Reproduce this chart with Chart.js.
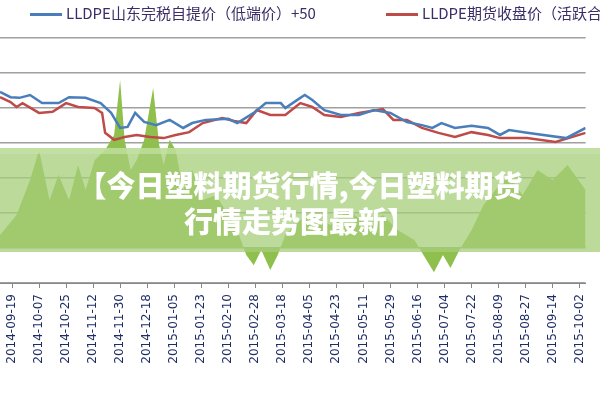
<!DOCTYPE html>
<html><head><meta charset="utf-8">
<script src="https://cdn.jsdelivr.net/npm/chart.js@4"></script>
<style>
  html, body { margin: 0; padding: 0; width: 600px; height: 400px; overflow: hidden; background: #fff; }
  #wrap { position: relative; width: 600px; height: 400px; }
  canvas { position: absolute; left: 0; top: 0; }
  .leg { position: absolute; top: 2px; font: 15px "Noto Sans CJK SC", sans-serif; color: #3b2d66; white-space: nowrap; }
  .leg i { display: inline-block; width: 32px; height: 3px; vertical-align: middle; margin-right: 4px; }
  #banner { position: absolute; left: 0; top: 148px; width: 600px; height: 104px; background: rgba(165, 205, 120, 0.75);
    border-top: 6px solid rgba(200, 228, 170, 0.6); box-sizing: border-box; color: #fff; text-align: center;
    font: 900 29px/36px "Noto Sans CJK SC", sans-serif; padding-top: 12px; }
</style></head>
<body>
<div id="wrap">
  <canvas id="c" width="600" height="400"></canvas>
  <div class="leg" style="left:30px"><i style="background:#4a7ebb"></i>LLDPE山东完税自提价（低端价）+50</div>
  <div class="leg" style="left:386px"><i style="background:#be4b48"></i>LLDPE期货收盘价（活跃合约）</div>
  <div id="banner">【今日塑料期货行情,今日塑料期货<br>行情走势图最新】</div>
</div>
<script>
// days counted from 2014-09-19
const tickDays = [0, 18, 36, 54, 72, 90, 108, 126, 144, 162, 180, 198, 216, 234, 252, 270, 288, 306, 324, 342, 360, 378];
const tickLabels = ["2014-09-19", "2014-10-07", "2014-10-25", "2014-11-12", "2014-11-30", "2014-12-18",
  "2015-01-05", "2015-01-23", "2015-02-10", "2015-02-28", "2015-03-18", "2015-04-05", "2015-04-23",
  "2015-05-11", "2015-05-29", "2015-06-16", "2015-07-04", "2015-07-22", "2015-08-09", "2015-08-27",
  "2015-09-14", "2015-10-02"];

const spotDays = [-8, -1, 5, 12, 20, 31, 38, 49, 59, 66, 72, 77, 82, 88, 96, 105, 114, 120, 129, 144, 150, 161, 169, 179, 182, 192, 195, 200, 208, 219, 231, 241, 252, 263, 273, 280, 286, 295, 306, 317, 325, 331, 343, 369, 382];
const spotPrice = [11460, 11310, 11290, 11370, 11140, 11140, 11310, 11290, 11140, 10860, 10430, 10460, 10860, 10600, 10510, 10660, 10430, 10570, 10660, 10690, 10570, 10860, 11140, 11140, 11000, 11290, 11370, 11230, 10940, 10800, 10800, 10940, 10860, 10600, 10510, 10430, 10570, 10430, 10490, 10430, 10230, 10370, 10290, 10140, 10430];

const futDays = [-8, -1, 3, 7, 18, 27, 36, 44, 55, 60, 62, 68, 75, 83, 92, 101, 109, 118, 127, 140, 148, 156, 163, 172, 182, 192, 200, 208, 219, 231, 247, 254, 263, 273, 284, 295, 306, 317, 325, 343, 362, 382];
const futPrice = [11310, 11170, 11030, 11140, 10860, 10890, 11140, 11030, 11000, 10860, 10290, 10090, 10170, 10230, 10170, 10140, 10230, 10310, 10570, 10710, 10630, 10570, 10940, 10800, 10800, 11140, 11030, 10800, 10740, 10860, 10970, 10660, 10660, 10430, 10290, 10170, 10310, 10230, 10140, 10140, 10030, 10290];

const basisDays = [-8, 3, 12, 18, 25, 31, 38, 44, 49, 55, 62, 68, 72, 75, 79, 83, 88, 94, 98, 101, 105, 109, 114, 120, 127, 136, 144, 150, 156, 161, 166, 172, 177, 182, 192, 200, 212, 224, 236, 247, 257, 268, 276, 281, 287, 292, 298, 306, 314, 322, 331, 340, 350, 360, 370, 382];
const basisLevel = [7370, 7940, 8940, 9800, 8370, 9090, 8370, 9370, 8660, 9510, 9800, 10230, 11800, 10090, 9230, 9510, 10090, 11570, 9940, 9370, 10090, 9800, 8660, 9230, 8370, 8510, 7940, 7510, 6800, 6510, 6940, 6370, 6800, 7370, 7800, 7940, 7660, 8090, 7660, 7940, 7510, 7230, 6660, 6310, 6800, 6430, 6940, 7510, 8230, 8660, 9090, 8510, 9230, 8940, 9370, 8660];
const basisZero = 7000;

const pts = (xs, ys) => xs.map((x, i) => ({ x, y: ys[i] }));

new Chart(document.getElementById("c"), {
  type: "line",
  data: {
    datasets: [
      { data: pts(spotDays, spotPrice), borderColor: "#4a7ebb", borderWidth: 2.5, pointRadius: 0, tension: 0, order: 1 },
      { data: pts(futDays, futPrice), borderColor: "#be4b48", borderWidth: 2.5, pointRadius: 0, tension: 0, order: 2 },
      { data: pts(basisDays, basisLevel), borderColor: "#8fc04f", borderWidth: 0, backgroundColor: "#8fbf4d",
        fill: { value: basisZero }, pointRadius: 0, tension: 0, order: 3 }
    ]
  },
  options: {
    responsive: false, animation: false, events: [],
    layout: { padding: { top: 38, left: 0, right: 0, bottom: 0 } },
    plugins: { legend: { display: false }, tooltip: { enabled: false } },
    scales: {
      x: {
        type: "linear", min: -8, max: 382,
        afterBuildTicks: (s) => { s.ticks = tickDays.map(v => ({ value: v })); },
        afterFit: (s) => { s.height = 117; },
        ticks: { autoSkip: false, minRotation: 90, maxRotation: 90, color: "#1f2d66",
          font: { family: "DejaVu Sans", size: 12 }, padding: 6,
          callback: (v) => tickLabels[tickDays.indexOf(v)] },
        grid: { drawOnChartArea: false, tickLength: 5, color: "#888" },
        border: { color: "#888" }
      },
      y: {
        min: 6000, max: 13000,
        afterFit: (s) => { s.width = 0; },
        ticks: { display: false, stepSize: 1000 },
        grid: { color: "#a0a0a0", lineWidth: 1.5, drawTicks: false },
        border: { display: false }
      }
    }
  }
});
</script>
</body></html>
